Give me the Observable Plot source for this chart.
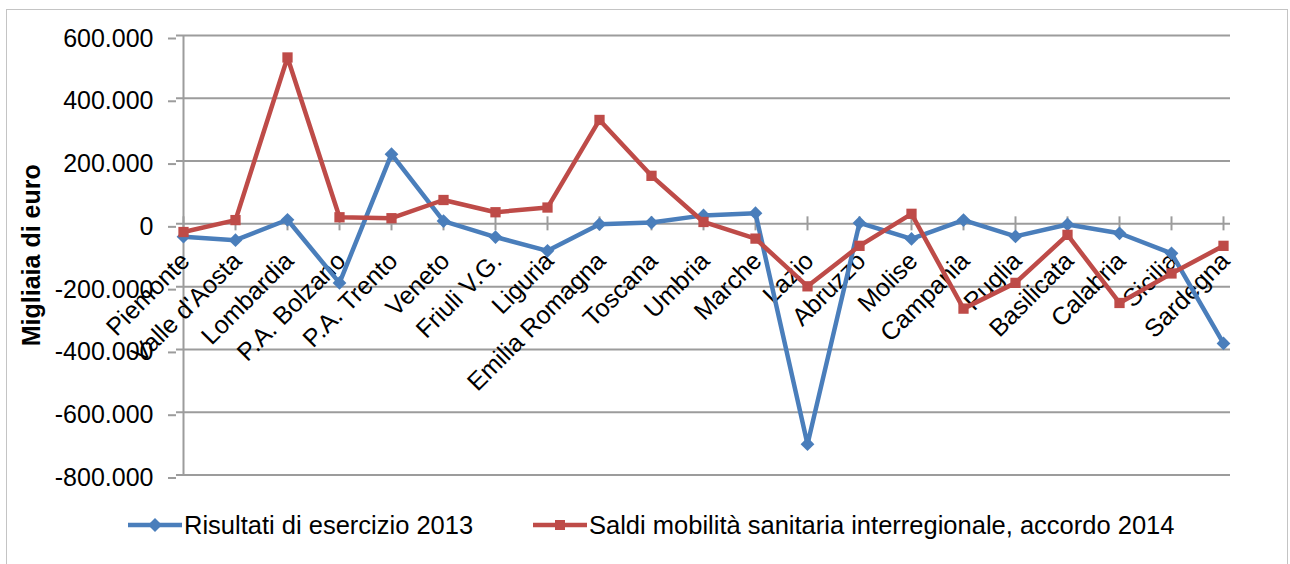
<!DOCTYPE html>
<html>
<head>
<meta charset="utf-8">
<script src="https://cdn.jsdelivr.net/npm/d3@7"></script>
<script src="https://cdn.jsdelivr.net/npm/@observablehq/plot@0.6"></script>
<style>
  html, body { margin: 0; padding: 0; background: #fff; }
  #wrap { position: relative; width: 1290px; height: 564px; overflow: hidden; font-family: "Liberation Sans", Arial, sans-serif; }
  #frameBox { position: absolute; left: 6px; top: 8.5px; width: 1282px; height: 600px; border: 1.5px solid #c4c4c4; box-sizing: border-box; pointer-events: none; }
  #chart { position: absolute; left: 0; top: 0; }
  #legend { position: absolute; left: 0; top: 500px; width: 1290px; height: 64px; }
  .item { position: absolute; top: 7px; height: 36px; display: flex; align-items: center; font-size: 25.5px; color: #000; white-space: nowrap; }
  .item svg { display: block; margin-right: 2px; }
</style>
</head>
<body>
<div id="wrap">
  <div id="chart"></div>
  <div id="legend"></div>
  <div id="frameBox"></div>
</div>
<script>
const regions = ["Piemonte", "Valle d'Aosta", "Lombardia", "P.A. Bolzano", "P.A. Trento", "Veneto", "Friuli V.G.", "Liguria", "Emilia Romagna", "Toscana", "Umbria", "Marche", "Lazio", "Abruzzo", "Molise", "Campania", "Puglia", "Basilicata", "Calabria", "Sicilia", "Sardegna"];
const risultati2013 = [-41000, -52000, 13000, -188000, 222000, 9000, -42000, -86000, -1000, 4000, 27000, 34000, -702000, 3000, -48000, 12000, -40000, -2000, -30000, -94000, -381000];
const saldiMobilita2014 = [-26000, 12000, 530000, 21000, 18000, 76000, 37000, 52000, 331000, 153000, 6000, -47000, -199000, -70000, 32000, -270000, -188000, -35000, -252000, -158000, -70000];
const yTicks = [-800000, -600000, -400000, -200000, 0, 200000, 400000, 600000];
const seriesNames = ["Risultati di esercizio 2013", "Saldi mobilità sanitaria interregionale, accordo 2014"];
const seriesColors = ["#4a7ebb", "#be4b48"];

const itFormat = d3.formatLocale({decimal: ",", thousands: ".", grouping: [3], currency: ["€", ""], minus: "-"}).format(",d");

const blue = regions.map((r, i) => ({region: r, value: risultati2013[i]}));
const red = regions.map((r, i) => ({region: r, value: saldiMobilita2014[i]}));

const chart = Plot.plot({
  width: 1290,
  height: 500,
  marginLeft: 176,
  marginRight: 60,
  marginTop: 35,
  marginBottom: 25.5,
  style: {fontFamily: "Liberation Sans, Arial, sans-serif", background: "transparent", overflow: "visible"},
  x: {type: "point", domain: regions, padding: 0, axis: null},
  y: {domain: [-800000, 600000], axis: null},
  marks: [
    Plot.ruleY(yTicks, {stroke: "#9c9c9c", strokeWidth: 2}),
    Plot.ruleX([regions[0]], {y1: -800000, y2: 600000, stroke: "#9c9c9c", strokeWidth: 2}),
    Plot.axisY({ticks: yTicks, tickFormat: itFormat, tickSize: 8, tickPadding: 15, stroke: "#9c9c9c", strokeWidth: 2, fontSize: 25, dy: 3, label: null, color: "#000"}),
    Plot.ruleX(regions, {x: d => d, y1: 0, y2: 0, insetTop: -7, insetBottom: -7, stroke: "#9c9c9c", strokeWidth: 2}),
    Plot.text(["Migliaia di euro"], {frameAnchor: "left", textAnchor: "middle", rotate: -90, dx: -145, fontSize: 25, fontWeight: "bold", fill: "#000"}),
    Plot.text(regions, {x: d => d, y: () => 0, text: d => d, rotate: -45, textAnchor: "end", dx: 2, dy: 33, fontSize: 25, fill: "#000"}),
    Plot.line(blue, {x: "region", y: "value", stroke: seriesColors[0], strokeWidth: 4.5, strokeLinejoin: "round"}),
    Plot.dot(blue, {x: "region", y: "value", symbol: "diamond2", r: 6.2, fill: seriesColors[0], stroke: "none"}),
    Plot.line(red, {x: "region", y: "value", stroke: seriesColors[1], strokeWidth: 4.5, strokeLinejoin: "round"}),
    Plot.dot(red, {x: "region", y: "value", symbol: "square", r: 5.8, fill: seriesColors[1], stroke: "none"})
  ]
});
document.getElementById("chart").appendChild(chart);

// legend
const legend = document.getElementById("legend");
const legendX = [128, 533];
seriesNames.forEach((name, i) => {
  const item = document.createElement("div");
  item.className = "item";
  item.style.left = legendX[i] + "px";
  const marker = i === 0
    ? '<path d="M27,11 L34,18 L27,25 L20,18 Z" fill="' + seriesColors[i] + '"/>'
    : '<rect x="22" y="13" width="10" height="10" fill="' + seriesColors[i] + '"/>';
  item.innerHTML = '<svg width="54" height="36"><line x1="0" y1="18" x2="54" y2="18" stroke="' + seriesColors[i] + '" stroke-width="4.5"/>' + marker + '</svg><span>' + name + '</span>';
  legend.appendChild(item);
});
</script>
</body>
</html>
